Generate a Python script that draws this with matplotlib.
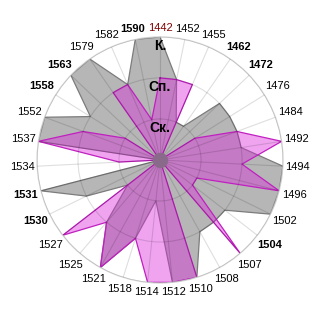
import numpy as np
import matplotlib
matplotlib.use('Agg')
import matplotlib.pyplot as plt

plt.rcParams['font.family'] = ['Liberation Sans', 'DejaVu Sans']

# categories (clockwise from the top)
years = ['1442', '1452', '1455', '1462', '1472', '1476', '1484', '1492', '1494', '1496',
         '1502', '1504', '1507', '1508', '1510', '1512', '1514', '1518', '1521', '1525',
         '1527', '1530', '1531', '1534', '1537', '1552', '1558', '1563', '1579', '1582',
         '1590']
bold_years = ['1590', '1462', '1472', '1504', '1530', '1531', '1558', '1563']
red_years = ['1442']

# level 0 = centre, 1 = Ск., 2 = Сп., 3 = К.
level_names = ['Ск.', 'Сп.', 'К.']
gray_vals = [3, 2, 1, 1, 2, 2, 2, 2, 3, 3, 3, 2, 2, 2, 3, 3, 1, 2, 3, 2,
             1, 2, 3, 0, 3, 3, 2, 3, 3, 2, 3]
pink_vals = [2, 2, 2, 0, 0, 1, 2, 3, 2, 3, 1, 1, 3, 0, 3, 3, 3, 2, 3, 2,
             3, 0, 0, 1, 3, 2, 1, 0, 2, 2, 1]

n = len(years)
theta = np.arange(n) * 2 * np.pi / n
th_closed = np.append(theta, theta[0])

fig = plt.figure(figsize=(3.2, 3.2), dpi=100)
ax = fig.add_axes([0.1156, 0.1156, 0.769, 0.769], projection='polar')
ax.set_theta_zero_location('N')
ax.set_theta_direction(-1)
ax.set_ylim(0, 3)

# polygons
ax.fill(th_closed, np.append(gray_vals, gray_vals[0]), facecolor='#b6b6b6',
        edgecolor='#7c7c7c', linewidth=0.9, zorder=1)
ax.fill(th_closed, np.append(pink_vals, pink_vals[0]), facecolor='#dc28dc',
        alpha=0.42, edgecolor='none', zorder=1.2)
ax.plot(th_closed, np.append(pink_vals, pink_vals[0]), color='#c020c0',
        linewidth=0.9, zorder=1.3)
ax.plot([0], [0], marker='o', markersize=10, color='#8a6a8a', zorder=3)

# grid
ax.set_xticks(theta)
ax.set_xticklabels([])
ax.set_yticks([1, 2, 3])
ax.set_yticklabels([])
ax.set_axisbelow(False)
ax.grid(True, color='black', alpha=0.13, linewidth=0.8)
ax.spines['polar'].set_color('#d4d4d4')
ax.spines['polar'].set_linewidth(0.9)
ax.tick_params(length=0)

# category labels
px = 123 / 3.0  # pixels per level
for t, lab in zip(theta, years):
    phi = np.pi / 2 - t
    dist = 123 + 2.5 + 12 * abs(np.cos(phi)) + 6 * abs(np.sin(phi))
    color = '#800000' if lab in red_years else 'black'
    weight = 'bold' if lab in bold_years else 'normal'
    ax.text(t, dist / px, lab, ha='center', va='center', fontsize=8,
            color=color, fontweight=weight, clip_on=False)

# level labels
for lv, name in enumerate(level_names, start=1):
    ax.text(0, lv - 0.05, name, ha='center', va='top', fontsize=10,
            fontweight='bold', zorder=4)

fig.savefig('out.png', dpi=100)
